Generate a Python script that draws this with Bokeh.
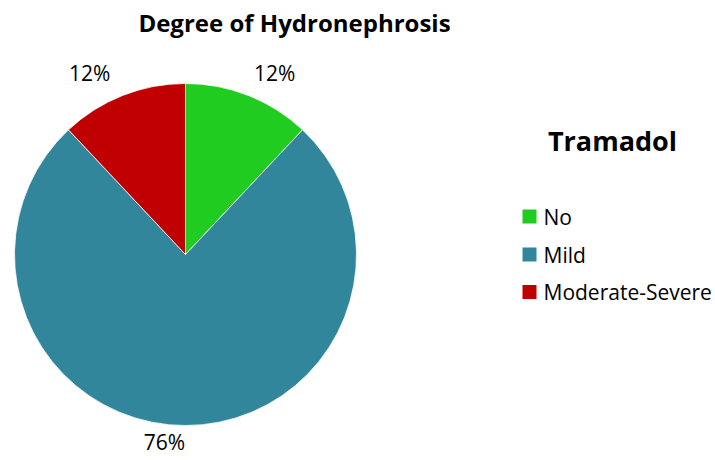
import math
from bokeh.plotting import figure
from bokeh.models import Range1d
from bokeh.core.properties import value
from bokeh.embed import file_html
from bokeh.resources import INLINE

# ---- data ----
title_text = "Degree of Hydronephrosis"
legend_title = "Tramadol"
categories = ["No", "Mild", "Moderate-Severe"]
shares = [12, 76, 12]
labels = ["12%", "76%", "12%"]
colors = ["#1FCC1F", "#31869B", "#C00000"]

# ---- layout (pixel space, y measured upward) ----
W, H = 715, 460
cx, cy, R = 185, H - 254, 171
# label placement: (angle deg, distance) from pie centre
label_geom = [(63.8, 202), (-96.4, 189), (117.9, 205)]
FONT = "Open Sans"

p = figure(width=W, height=H, output_backend="svg", toolbar_location=None,
           x_range=Range1d(0, W), y_range=Range1d(0, H), min_border=0)
p.axis.visible = False
p.grid.visible = False
p.outline_line_color = None
p.background_fill_color = "white"
p.border_fill_color = "white"

total = sum(shares)
start = math.pi / 2
for s, c in zip(shares, colors):
    a = 2 * math.pi * s / total
    p.wedge(x=cx, y=cy, radius=R, start_angle=start - a, end_angle=start,
            fill_color=c, line_color="white", line_width=0.75)
    start -= a

lx = [cx + d * math.cos(math.radians(a)) for a, d in label_geom]
ly = [cy + d * math.sin(math.radians(a)) for a, d in label_geom]
p.text(x=lx, y=ly, text=labels, text_font=value(FONT), text_font_size="21px",
       text_align="center", text_baseline="middle", text_color="#000000")

p.text(x=[294], y=[H - 22], text=[title_text], text_font=value(FONT),
       text_font_size="24px", text_font_style="bold", text_align="center",
       text_baseline="middle", text_color="#000000")
p.text(x=[612], y=[H - 140], text=[legend_title], text_font=value(FONT),
       text_font_size="27px", text_font_style="bold", text_align="center",
       text_baseline="middle", text_color="#000000")

# legend (manual)
leg_x = 529
leg_y = [H - 216, H - 254, H - 291.5]
p.rect(x=[leg_x] * 3, y=leg_y, width=14, height=14, fill_color=colors,
       line_color=None)
p.text(x=[leg_x + 14] * 3, y=leg_y, text=categories, text_font=value(FONT),
       text_font_size="21px", text_align="left", text_baseline="middle",
       text_color="#000000")

open("out.html", "w").write(file_html(p, INLINE))
